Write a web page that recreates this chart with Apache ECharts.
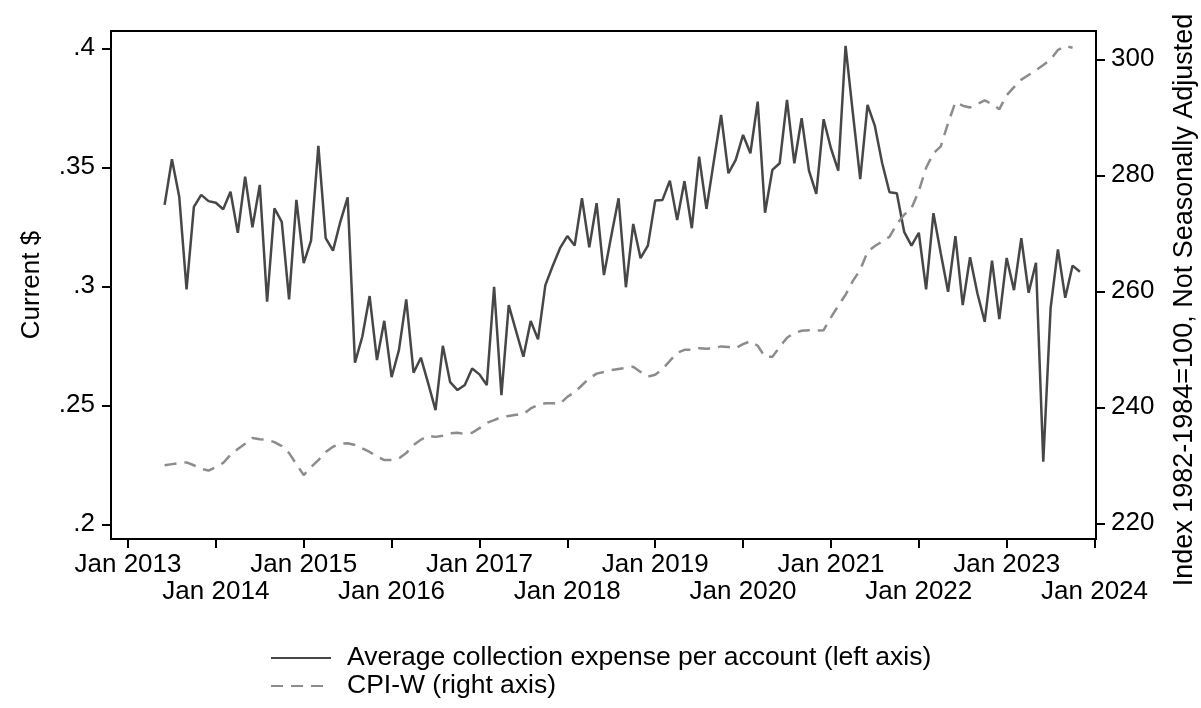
<!DOCTYPE html>
<html><head><meta charset="utf-8">
<script src="https://cdn.jsdelivr.net/npm/echarts@6/dist/echarts.min.js"></script>
<style>html,body{margin:0;padding:0;background:#fff}#c{width:1201px;height:708px}</style>
</head><body><div id="c"></div>
<script>
// x tick labels (months since Jan 2013)
const tickLabels = ['Jan 2013','Jan 2014','Jan 2015','Jan 2016','Jan 2017','Jan 2018','Jan 2019','Jan 2020','Jan 2021','Jan 2022','Jan 2023','Jan 2024'];
const tickMonths = [0,12,24,36,48,60,72,84,96,108,120,132];
const leftTicks = [0.2,0.25,0.3,0.35,0.4];
const rightTicks = [220,240,260,280,300];

// Average collection expense per account, monthly from Jun 2013
const expenseStart = '2013-06';
const expense = [
0.3342,0.3534,0.3376,0.2987,0.3334,0.3384,0.3358,0.3351,0.3324,0.3397,0.3225,0.3461,0.3248,0.3426,0.2935,0.3328,0.3271,0.2945,0.3363,0.3097,
0.3192,0.3590,0.3202,0.3150,0.3271,0.3374,0.2679,0.2788,0.2959,0.2690,0.2855,0.2618,0.2732,0.2945,0.2637,0.2700,0.2592,0.2480,0.2750,0.2597,
0.2564,0.2585,0.2655,0.2630,0.2585,0.2998,0.2543,0.2921,0.2812,0.2704,0.2854,0.2777,0.3005,0.3085,0.3160,0.3211,0.3171,0.3370,0.3164,0.3349,
0.3047,0.3211,0.3370,0.2996,0.3262,0.3118,0.3171,0.3360,0.3363,0.3444,0.3279,0.3442,0.3244,0.3545,0.3325,0.3524,0.3720,0.3475,0.3531,0.3636,
0.3559,0.3776,0.3309,0.3489,0.3517,0.3783,0.3517,0.3706,0.3486,0.3388,0.3702,0.3580,0.3486,0.4010,0.3727,0.3450,0.3762,0.3674,0.3517,0.3395,
0.3391,0.3229,0.3171,0.3225,0.2987,0.3307,0.3139,0.2977,0.3211,0.2921,0.3122,0.2971,0.2851,0.3108,0.2862,0.3119,0.2984,0.3202,0.2973,0.3099,
0.2263,0.2908,0.3155,0.2952,0.3087,0.3061
];

// CPI-W, monthly from Jun 2013
const cpiStart = '2013-06';
const cpiW = [
230.0,230.2,230.4,230.5,230.0,229.4,229.1,229.7,230.4,231.8,232.8,233.7,234.7,234.5,234.4,234.0,233.3,232.1,230.2,228.3,
229.7,230.9,232.3,233.2,233.7,233.8,233.5,232.9,232.3,231.5,230.9,230.9,231.2,232.1,233.5,234.4,235.1,234.9,235.1,235.5,
235.6,235.4,235.6,236.4,237.3,237.8,238.3,238.5,238.7,238.8,239.8,240.4,240.7,240.7,240.6,241.8,242.6,243.8,245.0,245.8,
246.1,246.4,246.6,246.8,247.0,246.1,245.3,245.6,246.6,248.0,249.4,249.9,249.9,250.2,250.1,250.2,250.5,250.4,250.2,250.9,
251.4,250.6,248.7,248.7,250.4,252.0,252.8,253.2,253.3,253.2,253.3,255.5,257.5,259.4,261.8,263.7,266.8,267.8,268.6,269.4,
271.6,273.2,274.3,277.3,281.3,283.8,285.0,289.0,292.6,292.0,291.7,292.3,292.9,292.3,291.4,293.8,295.2,296.5,297.3,298.1,
299.0,300.0,301.6,302.3,302.0
];

function monthIndex(s){const p=s.split('-').map(Number);return (p[0]-2013)*12+(p[1]-1);}
function pairs(start, vals){const s=monthIndex(start);return vals.map((v,i)=>[s+i,v]);}
const evenTicks = tickMonths.filter((m,i)=>i%2===0);
const oddTicks = tickMonths.filter((m,i)=>i%2===1);
function monthLabel(v){const i=tickMonths.indexOf(Math.round(v));return i<0?'':tickLabels[i];}

const FONT = "'Liberation Sans', Arial, Helvetica, sans-serif";
const FS = 26;
const AXW = 2;
const XMIN = -2.32, XMAX = 132.2;
const chart = echarts.init(document.getElementById('c'), null, {renderer:'canvas'});
chart.setOption({
  backgroundColor:'#fff',
  animation:false,
  textStyle:{fontFamily:FONT},
  grid:{left:111,right:105,top:31,bottom:169,containLabel:false,outerBoundsMode:'none',
        show:true,borderColor:'#000',borderWidth:AXW,backgroundColor:'#fff'},
  legend:{
    orient:'vertical',left:270,top:644,padding:0,itemWidth:60,itemHeight:14,itemGap:0,
    itemStyle:{opacity:0},
    textStyle:{fontSize:26.5,color:'#000',fontFamily:FONT,lineHeight:28,padding:[0,0,0,11]},
    data:['Average collection expense per account (left axis)','CPI-W (right axis)']
  },
  xAxis:[
    {type:'value',min:XMIN,max:XMAX,position:'bottom',
     splitLine:{show:false},
     axisLine:{show:true,onZero:false,lineStyle:{color:'#000',width:AXW}},
     axisTick:{show:true,length:9,lineStyle:{color:'#000',width:AXW},customValues:tickMonths},
     axisLabel:{customValues:evenTicks,margin:13,color:'#000',fontSize:FS,fontFamily:FONT,
       showMinLabel:true,showMaxLabel:true,hideOverlap:false,formatter:monthLabel}
    },
    {type:'value',min:XMIN,max:XMAX,position:'bottom',offset:0,
     splitLine:{show:false},axisLine:{show:false},axisTick:{show:false},
     axisLabel:{customValues:oddTicks,margin:40,color:'#000',fontSize:FS,fontFamily:FONT,
       showMinLabel:true,showMaxLabel:true,hideOverlap:false,formatter:monthLabel}
    }
  ],
  yAxis:[
    {type:'value',position:'left',min:0.19382,max:0.40727,
     splitLine:{show:false},
     axisLine:{show:true,onZero:false,lineStyle:{color:'#000',width:AXW}},
     axisTick:{show:true,length:9,lineStyle:{color:'#000',width:AXW},customValues:leftTicks},
     axisLabel:{customValues:leftTicks,margin:16,color:'#000',fontSize:FS,fontFamily:FONT,
       formatter:function(v){return String(+v.toFixed(2)).replace(/^0/,'');}},
     name:'Current $',nameLocation:'middle',nameRotate:90,nameGap:66,
     nameTextStyle:{color:'#000',fontSize:FS,fontFamily:FONT}
    },
    {type:'value',position:'right',min:217.29,max:304.88,
     splitLine:{show:false},
     axisLine:{show:true,onZero:false,lineStyle:{color:'#000',width:AXW}},
     axisTick:{show:true,length:9,lineStyle:{color:'#000',width:AXW},customValues:rightTicks},
     axisLabel:{customValues:rightTicks,margin:15,color:'#000',fontSize:FS,fontFamily:FONT},
     name:'Index 1982-1984=100, Not Seasonally Adjusted',nameLocation:'middle',nameRotate:90,nameGap:75,
     nameTextStyle:{color:'#000',fontSize:27,fontFamily:FONT,padding:[0,30,0,0]}
    }
  ],
  series:[
    {name:'Average collection expense per account (left axis)',type:'line',xAxisIndex:0,yAxisIndex:0,
     data:pairs(expenseStart,expense),symbol:'none',showSymbol:false,
     lineStyle:{color:'#474747',width:2.5},itemStyle:{color:'#474747'}},
    {name:'CPI-W (right axis)',type:'line',xAxisIndex:0,yAxisIndex:1,
     data:pairs(cpiStart,cpiW),symbol:'none',showSymbol:false,
     lineStyle:{color:'#8c8c8c',width:2.5,type:[12,8]},itemStyle:{color:'#8c8c8c'}}
  ]
});
</script>
</body></html>
